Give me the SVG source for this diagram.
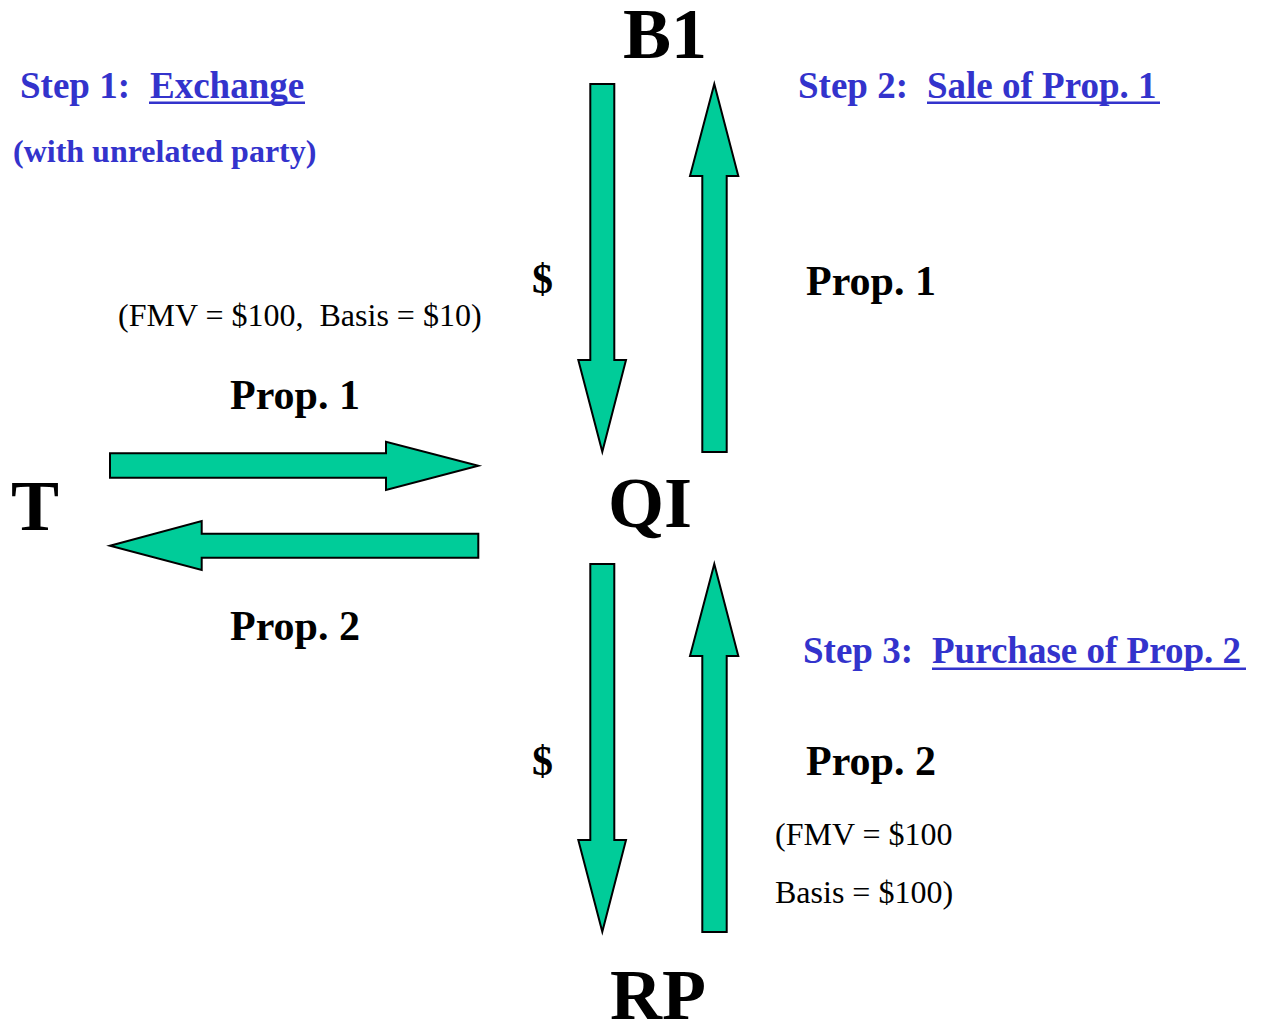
<svg xmlns="http://www.w3.org/2000/svg" width="1261" height="1024" viewBox="0 0 1261 1024">
<style>
.arrow{fill:#00CC99;stroke:#000;stroke-width:2;stroke-linejoin:miter}
.big{font-family:"Liberation Serif","Times New Roman",serif;font-weight:bold;font-size:72px;fill:#000}
.lbl{font-family:"Liberation Serif","Times New Roman",serif;font-weight:bold;font-size:42px;fill:#000}
.step{font-family:"Liberation Serif","Times New Roman",serif;font-weight:bold;font-size:37px;fill:#3333CC;white-space:pre}
.sub{font-family:"Liberation Serif","Times New Roman",serif;font-weight:bold;font-size:32px;fill:#3333CC}
.note{font-family:"Liberation Serif","Times New Roman",serif;font-size:32px;fill:#000;white-space:pre}
.ul{fill:#3333CC}
</style>
<rect width="1261" height="1024" fill="#fff"/>
<g id="node-B1"><text class="big" x="623" y="58">B1</text></g>
<g id="node-QI"><text class="big" x="608" y="527">QI</text></g>
<g id="node-RP"><text class="big" x="610" y="1019">RP</text></g>
<g id="node-T"><text class="big" x="11" y="530">T</text></g>
<g id="connectors">
  <polygon class="arrow" points="590.3,84 614.3,84 614.3,360 626,360 602.3,451.7 578.3,360 590.3,360"/>
  <polygon class="arrow" points="714.3,84 738.3,176 726.7,176 726.7,452 702.3,452 702.3,176 690,176"/>
  <polygon class="arrow" points="590.3,564 614.3,564 614.3,840 626,840 602.3,931.7 578.3,840 590.3,840"/>
  <polygon class="arrow" points="714.3,564 738.3,656 726.7,656 726.7,932 702.3,932 702.3,656 690,656"/>
  <polygon class="arrow" points="110,453.3 386,453.3 386,441.7 478.3,465.7 386,490 386,477.7 110,477.7"/>
  <polygon class="arrow" points="110,545.7 201.7,521 201.7,533.7 478.3,533.7 478.3,557.7 201.7,557.7 201.7,570"/>
</g>
<g id="labels">
  <text class="step" x="20" y="98">Step 1:</text>
  <text class="step" x="150" y="98">Exchange</text>
  <rect class="ul" x="149" y="101.5" width="156" height="2.5"/>
  <text class="sub" x="13" y="162">(with unrelated party)</text>
  <text class="step" x="798" y="98">Step 2:</text>
  <text class="step" x="927" y="98">Sale of Prop. 1</text>
  <rect class="ul" x="927" y="101.5" width="233" height="2.5"/>
  <text class="step" x="803" y="663">Step 3:</text>
  <text class="step" x="932" y="663">Purchase of Prop. 2</text>
  <rect class="ul" x="932" y="667.5" width="314" height="2.5"/>
  <text class="lbl" x="532" y="293">$</text>
  <text class="lbl" x="806" y="295">Prop. 1</text>
  <text class="lbl" x="230" y="409">Prop. 1</text>
  <text class="lbl" x="230" y="640">Prop. 2</text>
  <text class="lbl" x="532" y="775">$</text>
  <text class="lbl" x="806" y="775">Prop. 2</text>
  <text class="note" x="118" y="326">(FMV = $100,  Basis = $10)</text>
  <text class="note" x="775" y="845">(FMV = $100</text>
  <text class="note" x="775" y="903">Basis = $100)</text>
</g>
</svg>
